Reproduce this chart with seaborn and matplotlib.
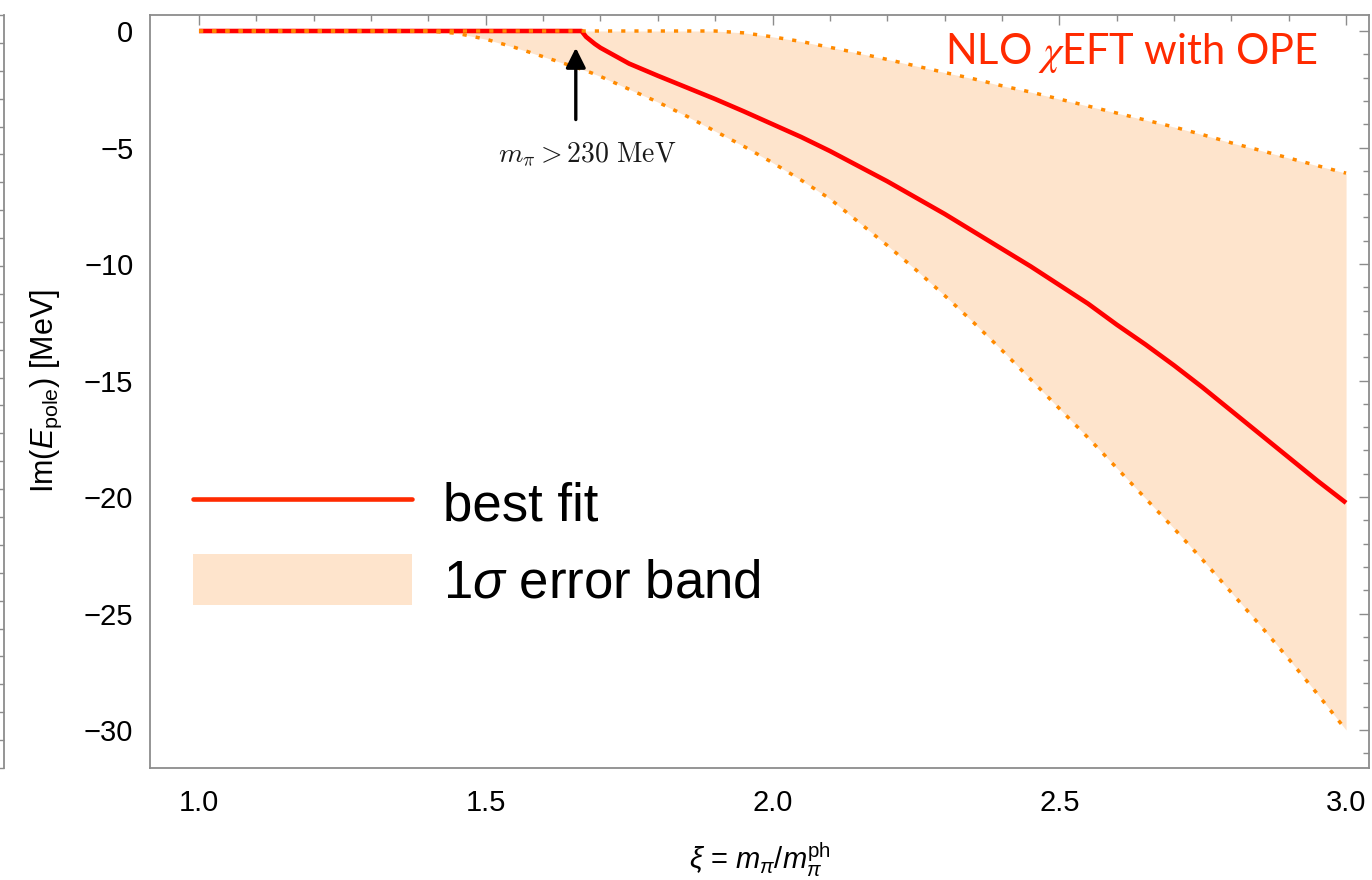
import numpy as np
import pandas as pd
import matplotlib
matplotlib.use("Agg")
import matplotlib.pyplot as plt
from matplotlib.lines import Line2D
from matplotlib.patches import Patch
from matplotlib.ticker import MultipleLocator, FixedFormatter, NullFormatter
import seaborn as sns

# ---- data -------------------------------------------------------------
xi = [1.00, 1.05, 1.10, 1.15, 1.20, 1.25, 1.30, 1.35, 1.40, 1.45,
      1.50, 1.55, 1.60, 1.65, 1.667, 1.675, 1.69, 1.70, 1.75, 1.80,
      1.85, 1.90, 1.95, 2.00, 2.05, 2.10, 2.15, 2.20, 2.25, 2.30,
      2.35, 2.40, 2.45, 2.50, 2.55, 2.60, 2.65, 2.70, 2.75, 2.80,
      2.85, 2.90, 2.95, 3.00]

best_fit = [0, 0, 0, 0, 0, 0, 0, 0, 0, 0,
            0, 0, 0, 0, 0, -0.25, -0.55, -0.72, -1.40, -1.92,
            -2.42, -2.92, -3.45, -4.00, -4.55, -5.15, -5.80, -6.45, -7.15, -7.85,
            -8.60, -9.35, -10.10, -10.90, -11.70, -12.60, -13.45, -14.35, -15.30, -16.30,
            -17.30, -18.30, -19.30, -20.25]

band_upper = [0, 0, 0, 0, 0, 0, 0, 0, 0, 0,
              0, 0, 0, 0, 0, 0, 0, 0, 0, 0,
              0, 0, -0.08, -0.25, -0.45, -0.70, -0.95, -1.22, -1.50, -1.78,
              -2.05, -2.35, -2.62, -2.92, -3.22, -3.52, -3.82, -4.12, -4.45, -4.80,
              -5.12, -5.45, -5.78, -6.10]

band_lower = [0, 0, 0, 0, 0, 0, 0, 0, 0, -0.10,
              -0.35, -0.70, -1.10, -1.50, -1.64, -1.71, -1.85, -1.95, -2.50, -3.05,
              -3.65, -4.30, -4.95, -5.65, -6.40, -7.20, -8.20, -9.20, -10.25, -11.35,
              -12.50, -13.70, -14.95, -16.20, -17.45, -18.75, -20.05, -21.35, -22.70, -24.10,
              -25.50, -26.95, -28.45, -30.00]

x_ticks = [1.0, 1.5, 2.0, 2.5, 3.0]
x_tick_labels = ["1.0", "1.5", "2.0", "2.5", "3.0"]
y_ticks = [0, -5, -10, -15, -20, -25, -30]
y_tick_labels = ["0", "\u22125", "\u221210", "\u221215", "\u221220", "\u221225", "\u221230"]

threshold_xi = 1.657
threshold_label = r"$m_\pi > 230\ \mathrm{MeV}$"
legend_labels = ["best fit", r"1$\sigma$ error band"]
title_text = r"NLO $\chi$EFT with OPE"

df = pd.DataFrame({"xi": xi, "best": best_fit, "up": band_upper, "lo": band_lower})

# ---- style ------------------------------------------------------------
sns.set_theme(style="white")
plt.rcParams["font.family"] = ["Liberation Sans", "DejaVu Sans"]
plt.rcParams["text.color"] = "black"
plt.rcParams["axes.labelcolor"] = "black"
plt.rcParams["xtick.color"] = "black"
plt.rcParams["ytick.color"] = "black"
plt.rcParams["mathtext.fontset"] = "custom"
plt.rcParams["mathtext.rm"] = "Liberation Sans"
plt.rcParams["mathtext.it"] = "Liberation Sans:italic"
plt.rcParams["mathtext.bf"] = "Liberation Sans:bold"

RED = "#ff0000"
LEGEND_RED = "#ff2a00"
BAND = "#fee4cc"
DOTS = "#ff8a00"
FRAME = "#8c8c8c"

fig = plt.figure(figsize=(13.72, 8.80), dpi=100)
ax = fig.add_axes([150 / 1372, 1 - 768 / 880, (1369 - 150) / 1372, (768 - 15) / 880])

# edge of the neighbouring panel on the left
side = fig.add_axes([0, 1 - 768 / 880, 4 / 1372, (768 - 15) / 880])
side.set_xlim(0, 1)
side.set_ylim(0, 27)
side.set_xticks([])
side.yaxis.set_major_locator(MultipleLocator(1))
side.yaxis.set_major_formatter(NullFormatter())
side.tick_params(axis="y", direction="in", left=False, right=True, length=4,
                 color=FRAME, width=1.0)
for name, sp in side.spines.items():
    sp.set_visible(name == "right")
    sp.set_color(FRAME)
    sp.set_linewidth(1.3)
side.patch.set_alpha(0)

# band
ax.fill_between(df["xi"], df["lo"], df["up"], color=BAND, lw=0, zorder=1)
# best fit
sns.lineplot(data=df, x="xi", y="best", ax=ax, color=RED, lw=3.3,
             estimator=None, sort=False, zorder=3, solid_capstyle="butt")
# band edges (dotted)
for col in ["up", "lo"]:
    sns.lineplot(data=df, x="xi", y=col, ax=ax, color=DOTS, lw=2.5,
                 estimator=None, sort=False, zorder=4,
                 linestyle=(0, (1.2, 2.6)), dash_capstyle="butt")

# limits and ticks
ax.set_xlim(0.9146, 3.040)
ax.set_ylim(-31.63, 0.687)
ax.set_xticks(x_ticks)
ax.xaxis.set_major_formatter(FixedFormatter(x_tick_labels))
ax.set_yticks(y_ticks)
ax.yaxis.set_major_formatter(FixedFormatter(y_tick_labels))
ax.xaxis.set_minor_locator(MultipleLocator(0.1))
ax.yaxis.set_minor_locator(MultipleLocator(1))
ax.tick_params(which="both", direction="in", top=True, right=True,
               color=FRAME, width=1.0, labelcolor="black")
ax.tick_params(which="major", length=7)
ax.tick_params(which="minor", length=4)
ax.tick_params(axis="x", which="major", pad=15, labelsize=21)
ax.tick_params(axis="y", which="major", pad=12, labelsize=21)
for sp in ax.spines.values():
    sp.set_color(FRAME)
    sp.set_linewidth(1.3)
ax.grid(False)

ax.set_xlabel(r"$\xi$ = $m_\pi / m_\pi^{\mathrm{ph}}$", fontsize=21, labelpad=17)
ax.set_ylabel(r"Im($E_{\mathrm{pole}}$) [MeV]", fontsize=22, labelpad=14)

# threshold arrow and label
ax.annotate("", xy=(threshold_xi, -0.72), xytext=(threshold_xi, -3.8),
            arrowprops=dict(arrowstyle="-|>", color="black", lw=2.4,
                            mutation_scale=30, shrinkA=0, shrinkB=0), zorder=5)
ax.text(threshold_xi + 0.02, -5.3, threshold_label, ha="center", va="center",
        fontsize=20, math_fontfamily="cm", color="#1a1a1a")

# panel label
ax.text(0.958, 0.950, title_text, transform=ax.transAxes, ha="right", va="center",
        fontsize=30, color=LEGEND_RED, family=["Lato", "DejaVu Sans"],
        math_fontfamily="stix")

# legend
handles = [Line2D([], [], color=LEGEND_RED, lw=3.3),
           Patch(facecolor=BAND, edgecolor="none")]
leg = ax.legend(handles, legend_labels, loc="upper left", bbox_to_anchor=(0.035, 0.386),
                frameon=False, fontsize=38, handlelength=4.15, handleheight=1.12,
                handletextpad=0.6, labelspacing=0.42, borderpad=0, borderaxespad=0)
for t in leg.get_texts():
    t.set_color("black")

fig.savefig("out.png", dpi=100)
